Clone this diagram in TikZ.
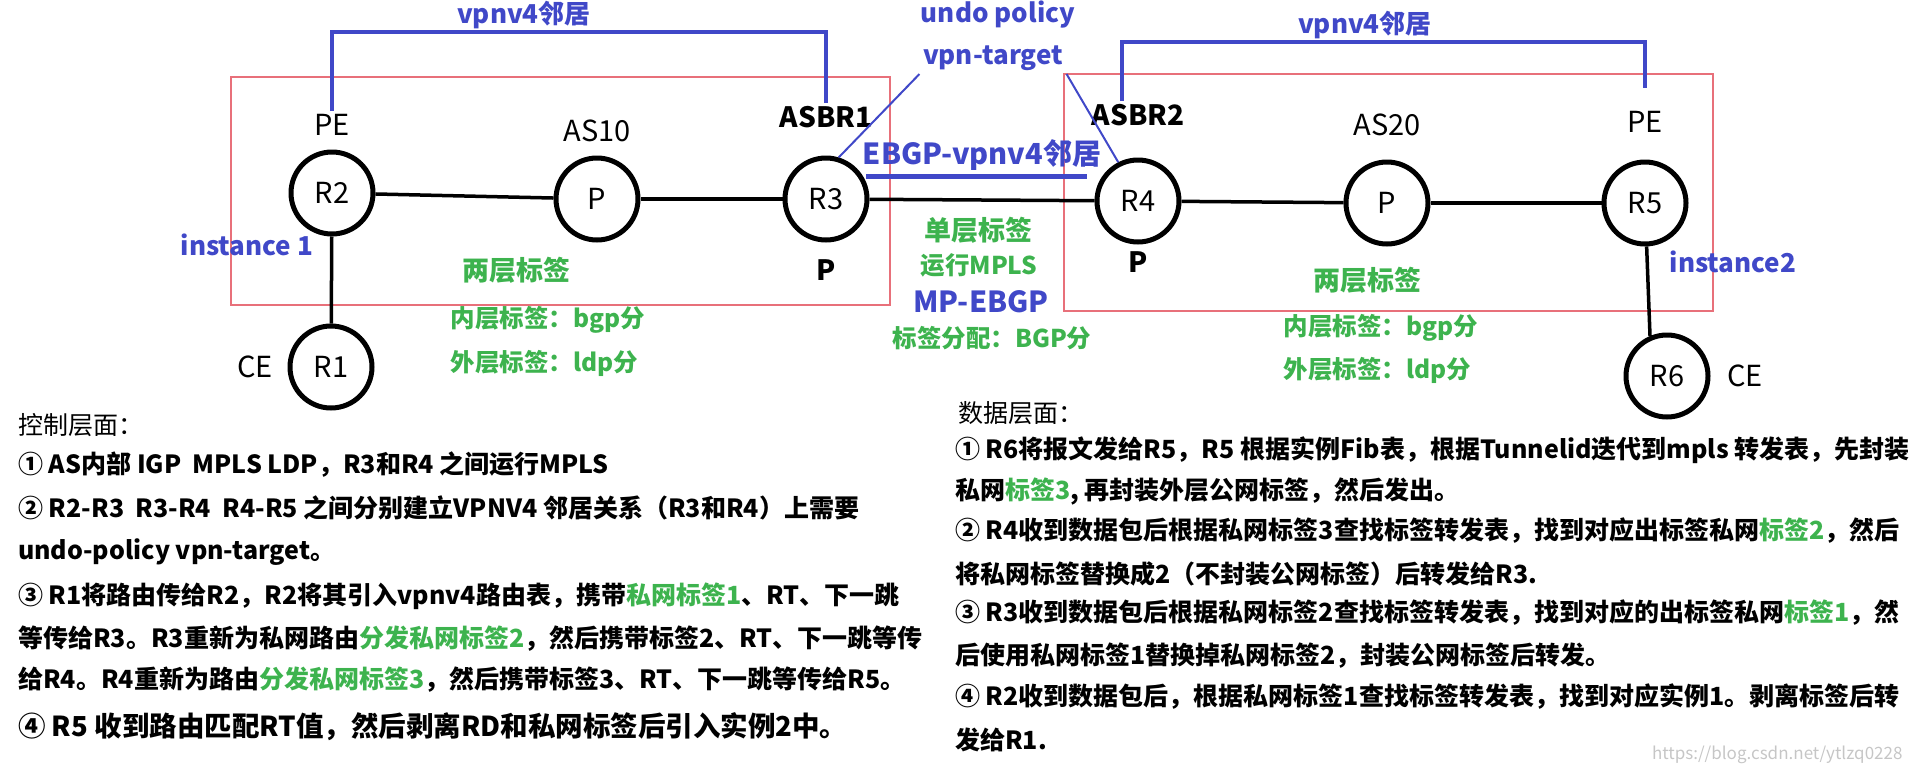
\documentclass[tikz,border=0pt]{standalone}
\usepackage{fontspec}
\setmainfont{Noto Sans CJK SC}
\usepackage{xcolor}
\usetikzlibrary{positioning}
\definecolor{linkblue}{HTML}{4048C8}
\definecolor{lblgreen}{HTML}{3DB34E}
\definecolor{boxred}{HTML}{E8707A}

\begin{document}
\begin{tikzpicture}[x=1pt, y=-1pt, node distance=10pt,
      router/.style={circle, draw, line width=5pt, minimum size=82pt, inner sep=0pt,
                     font=\fontsize{29}{32}\selectfont},
      role/.style={font=\fontsize{29}{32}\selectfont},
      rolebf/.style={font=\bfseries\fontsize{28}{32}\selectfont},
      link/.style={line width=3.5pt},
      nbr/.style={draw=linkblue, line width=4pt},
      note/.style={text=linkblue, font=\bfseries\fontsize{26}{30}\selectfont},
      notebig/.style={text=linkblue, font=\bfseries\fontsize{29}{32}\selectfont},
      tag/.style={text=lblgreen, font=\bfseries\fontsize{27}{30}\selectfont},
      tagsm/.style={text=lblgreen, font=\bfseries\fontsize{24.5}{28}\selectfont},
      asbox/.style={draw=boxred, line width=1.5pt},
      para/.style={anchor=west, inner sep=0pt, font=\bfseries\fontsize{25}{30}\selectfont}]
    \useasboundingbox (0,0) rectangle (1914,774);
    \draw[asbox] (231,77) rectangle (890,305);
    \draw[asbox] (1064,74) rectangle (1713,311);

    \node[router] (R2) at (332,193)  {R2};
    \node[router] (P1) at (597,199)  {P};
    \node[router] (R3) at (826,199)  {R3};
    \node[router] (R4) at (1138,201) {R4};
    \node[router] (P2) at (1387,203) {P};
    \node[router] (R5) at (1645,203) {R5};
    \node[router] (R1) at (331,367)  {R1};
    \node[router] (R6) at (1667,376) {R6};

    \node[role, above=of R2]          (pe1)   {PE};
    \node[role, above=of P1]          (as10)  {AS10};
    \node[rolebf, above=24pt of R3]   (asbr1) {ASBR1};
    \node[rolebf, below=14pt of R3]   (p3)    {P};
    \node[rolebf, above=28pt of R4]   (asbr2) {ASBR2};
    \node[rolebf, below=4pt of R4]    (p4)    {P};
    \node[role, above=20pt of P2]     (as20)  {AS20};
    \node[role, above=23pt of R5]     (pe2)   {PE};
    \node[role, left=11pt of R1]      (ce1)   {CE};
    \node[role, right=13pt of R6]     (ce2)   {CE};

    \node[note] (vl1)  at (524,15)   {vpnv4邻居};
    \node[note] (vl2)  at (1365,25)  {vpnv4邻居};
    \node[note] (undo) at (998,15)   {undo policy};
    \node[note] (tgt)  at (993,58)   {vpn-target};
    \node[notebig] (ebgp)   at (982,155) {EBGP-vpnv4邻居};
    \node[notebig] (mpebgp) at (981,302) {MP-EBGP};
    \node[note] (inst1) at (247,245)  {instance 1};
    \node[note] (inst2) at (1733,262) {instance2};

    \node[tag] (two1) at (516,270)  {两层标签};
    \node[tag] (two2) at (1367,280) {两层标签};
    \node[tagsm, anchor=west] (in1)  at (447,320)  {内层标签：bgp分};
    \node[tagsm, anchor=west] (out1) at (447,363)  {外层标签：ldp分};
    \node[tagsm, anchor=west] (in2)  at (1280,328) {内层标签：bgp分};
    \node[tagsm, anchor=west] (out2) at (1280,370) {外层标签：ldp分};
    \node[tag]   (one)   at (978,230) {单层标签};
    \node[tagsm] (mpls)  at (979,265) {运行MPLS};
    \node[tagsm] (alloc) at (992,338) {标签分配：BGP分};

    \draw[link] (R2) -- (P1);
    \draw[link] (P1) -- (R3);
    \draw[link] (R3) -- (R4);
    \draw[link] (R4) -- (P2);
    \draw[link] (P2) -- (R5);
    \draw[link] (R2) -- (R1);
    \draw[link] (R5) -- (R6.113);
    \draw[nbr] (pe1.north) |- (vl1.south) -| (asbr1.north);
    \draw[nbr] ([xshift=-16pt]asbr2.north) |- (vl2.south) -| ([yshift=20pt]pe2.north);
    \draw[linkblue, line width=2pt] (tgt.south west) -- (R3.73);
    \draw[linkblue, line width=2pt] (tgt.south east) -- (R4.117);
    \draw[linkblue, line width=5pt] ([xshift=7pt,yshift=-3pt]ebgp.south west)
      -- ([xshift=-18pt,yshift=-3pt]ebgp.south east);

    \node[para, font=\fontsize{25}{30}\selectfont] (c0) at (18,425) {控制层面：};
    \node[para] (c1) at (18,465) {① AS内部 IGP~~MPLS LDP，R3和R4 之间运行MPLS};
    \node[para] (c2) at (18,508) {② R2-R3~~R3-R4~~R4-R5 之间分别建立VPNV4 邻居关系（R3和R4）上需要};
    \node[para] (c3) at (18,552) {undo-policy vpn-target。};
    \node[para] (c4) at (18,596) {③ R1将路由传给R2，R2将其引入vpnv4路由表，携带\textcolor{lblgreen}{私网标签1}、RT、下一跳};
    \node[para] (c5) at (18,639) {等传给R3。R3重新为私网路由\textcolor{lblgreen}{分发私网标签2}，然后携带标签2、RT、下一跳等传};
    \node[para] (c6) at (18,680) {给R4。R4重新为路由\textcolor{lblgreen}{分发私网标签3}，然后携带标签3、RT、下一跳等传给R5。};
    \node[para, font=\bfseries\fontsize{27.5}{32}\selectfont] (c7) at (18,727) {④ R5 收到路由匹配RT值，然后剥离RD和私网标签后引入实例2中。};

    \node[para, font=\fontsize{25}{30}\selectfont] (d0) at (958,413) {数据层面：};
    \node[para] (d1) at (955,450) {① R6将报文发给R5，R5 根据实例Fib表，根据Tunnelid迭代到mpls 转发表，先封装};
    \node[para] (d2) at (955,492) {私网\textcolor{lblgreen}{标签3}, 再封装外层公网标签，然后发出。};
    \node[para] (d3) at (955,531) {② R4收到数据包后根据私网标签3查找标签转发表，找到对应出标签私网\textcolor{lblgreen}{标签2}，然后};
    \node[para] (d4) at (955,574) {将私网标签替换成2（不封装公网标签）后转发给R3.};
    \node[para] (d5) at (955,613) {③ R3收到数据包后根据私网标签2查找标签转发表，找到对应的出标签私网\textcolor{lblgreen}{标签1}，然};
    \node[para] (d6) at (955,656) {后使用私网标签1替换掉私网标签2，封装公网标签后转发。};
    \node[para] (d7) at (955,697) {④ R2收到数据包后，根据私网标签1查找标签转发表，找到对应实例1。剥离标签后转};
    \node[para] (d8) at (955,740) {发给R1.};
    \node[anchor=east, text=gray!45, font=\fontsize{17}{20}\selectfont] (wm) at (1906,755) {https://blog.csdn.net/ytlzq0228};
  \end{tikzpicture}
\end{document}
